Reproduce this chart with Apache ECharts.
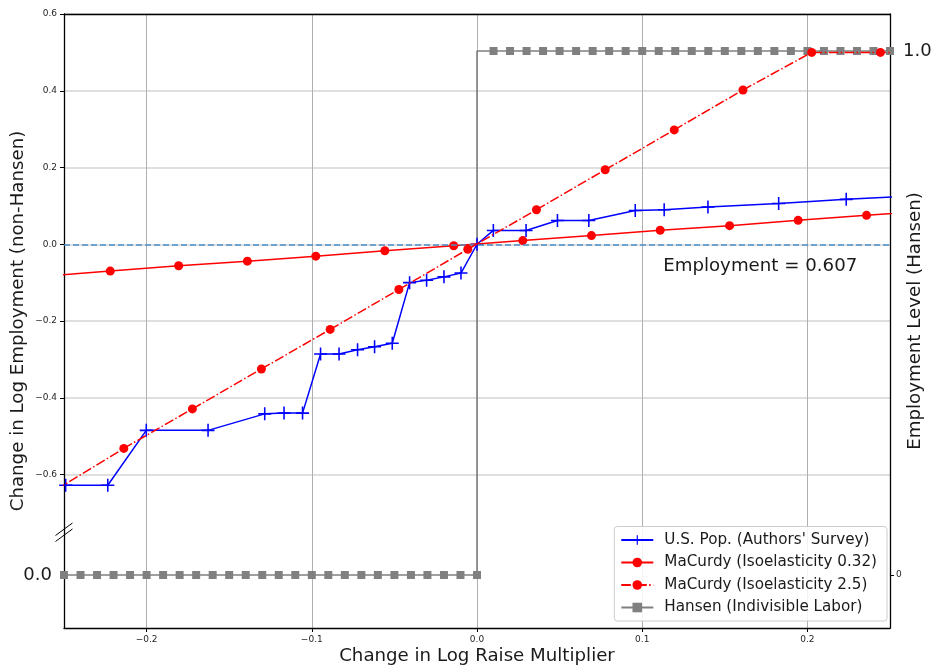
<!DOCTYPE html>
<html>
<head>
<meta charset="utf-8">
<script src="https://cdn.jsdelivr.net/npm/echarts@6/dist/echarts.min.js"></script>
<style>
html, body { margin: 0; padding: 0; background: #fff; }
#chart { width: 934px; height: 668px; }
</style>
</head>
<body>
<div id="chart"></div>
<script>
// U.S. population (authors' survey)
const usX = [-0.249, -0.2235, -0.2002, -0.1628, -0.1285, -0.1168, -0.1056, -0.0947, -0.0835, -0.0723, -0.062, -0.0513,
  -0.0408, -0.0305, -0.02, -0.0097, 0, 0.0099, 0.0297, 0.0487, 0.0677, 0.0958, 0.1133, 0.1398, 0.1826, 0.2235, 0.265]
const usY = [-0.628, -0.628, -0.485, -0.485, -0.442, -0.44, -0.44, -0.286, -0.286, -0.275, -0.267, -0.258,
  -0.1, -0.094, -0.085, -0.075, 0, 0.036, 0.036, 0.062, 0.062, 0.088, 0.09, 0.097, 0.106, 0.117, 0.126]

// MaCurdy, isoelasticity 0.32
const mc1X = [-0.264, -0.222, -0.1806, -0.139, -0.0976, -0.0558, -0.0141, 0.0277, 0.0693, 0.1109, 0.1529, 0.1944, 0.2358, 0.278]
const mc1Y = [-0.084, -0.07, -0.056, -0.044, -0.031, -0.017, -0.004, 0.0095, 0.0225, 0.0364, 0.0485, 0.0623, 0.0753, 0.089]

// MaCurdy, isoelasticity 2.5
const mc2X = [-0.255, -0.2138, -0.1723, -0.1305, -0.0889, -0.0473, -0.0056, 0.036, 0.0776, 0.1194, 0.161, 0.2026, 0.2442, 0.286]
const mc2Y = [-0.64, -0.532, -0.429, -0.325, -0.222, -0.118, -0.013, 0.09, 0.194, 0.298, 0.402, 0.5, 0.5, 0.5]

// Hansen (indivisible labor), employment level on the right axis
const hansenX = [-0.25, -0.24, -0.23, -0.22, -0.21, -0.2, -0.19, -0.18, -0.17, -0.16, -0.15, -0.14, -0.13,
  -0.12, -0.11, -0.1, -0.09, -0.08, -0.07, -0.06, -0.05, -0.04, -0.03, -0.02, -0.01, 0,
  0.01, 0.02, 0.03, 0.04, 0.05, 0.06, 0.07, 0.08, 0.09, 0.1, 0.11, 0.12, 0.13,
  0.14, 0.15, 0.16, 0.17, 0.18, 0.19, 0.2, 0.21, 0.22, 0.23, 0.24, 0.25]
const hansenY = [0, 0, 0, 0, 0, 0, 0, 0, 0, 0, 0, 0, 0,
  0, 0, 0, 0, 0, 0, 0, 0, 0, 0, 0, 0, 0,
  1, 1, 1, 1, 1, 1, 1, 1, 1, 1, 1, 1, 1,
  1, 1, 1, 1, 1, 1, 1, 1, 1, 1, 1, 1]

const xTicks = [-0.2, -0.1, 0, 0.1, 0.2]
const yTicks = [-0.6, -0.4, -0.2, 0, 0.2, 0.4, 0.6]
const seriesNames = ["U.S. Pop. (Authors' Survey)", 'MaCurdy (Isoelasticity 0.32)', 'MaCurdy (Isoelasticity 2.5)', 'Hansen (Indivisible Labor)']
const employmentNote = 'Employment = 0.607'

const zip = (xs, ys) => xs.map((x, i) => [x, ys[i]])
const fmt = v => v.toFixed(1).replace('-', '\u2212')

const FONT = 'DejaVu Sans'
const PLUS = 'path://M4.4,0H5.6V4.4H10V5.6H5.6V10H4.4V5.6H0V4.4H4.4Z'
const SPINE = { show: true, onZero: false, lineStyle: { color: '#000', width: 1.3 } }
const hansenMin = -0.1011
const hansenMax = 1.0706

const chart = echarts.init(document.getElementById('chart'), null, { renderer: 'canvas' })

const option = {
  animation: false,
  textStyle: { fontFamily: FONT },
  grid: {
    left: 64, right: 44, top: 14, bottom: 40,
    outerBoundsMode: 'none',
    containLabel: false
  },
  legend: {
    orient: 'vertical',
    right: 47,
    bottom: 47,
    data: seriesNames,
    itemWidth: 32,
    itemHeight: 12,
    itemGap: 7.5,
    padding: [6, 10, 6, 6],
    backgroundColor: 'rgba(255,255,255,0.85)',
    borderColor: '#cccccc',
    borderWidth: 1,
    borderRadius: 3,
    textStyle: { fontFamily: FONT, fontSize: 15.2, color: '#1a1a1a', padding: [0, 0, 0, 6] }
  },
  xAxis: [
    {
      type: 'value',
      position: 'bottom',
      min: -0.25,
      max: 0.25,
      name: 'Change in Log Raise Multiplier',
      nameLocation: 'middle',
      nameGap: 19,
      nameMoveOverlap: false,
      nameTextStyle: { fontFamily: FONT, fontSize: 18.2, color: '#1a1a1a' },
      axisLine: SPINE,
      axisTick: { show: true, customValues: xTicks, length: 4, lineStyle: { color: '#000' } },
      axisLabel: { customValues: xTicks, formatter: fmt, fontSize: 9, color: '#262626', margin: 7, fontFamily: FONT },
      splitLine: { show: true, lineStyle: { color: '#b0b0b0', width: 1 } }
    },
    {
      // top spine
      type: 'value',
      position: 'top',
      min: -0.25,
      max: 0.25,
      axisLine: SPINE,
      axisTick: { show: false },
      axisLabel: { show: false },
      splitLine: { show: false }
    }
  ],
  yAxis: [
    {
      type: 'value',
      position: 'left',
      min: -1.0,
      max: 0.6,
      name: 'Change in Log Employment (non-Hansen)',
      nameLocation: 'middle',
      nameRotate: 90,
      nameGap: 37,
      nameMoveOverlap: false,
      nameTextStyle: { fontFamily: FONT, fontSize: 18.2, color: '#1a1a1a' },
      axisLine: SPINE,
      axisTick: { show: true, customValues: yTicks, length: 4, lineStyle: { color: '#000' } },
      axisLabel: { customValues: yTicks, formatter: fmt, fontSize: 9, color: '#262626', margin: 7, fontFamily: FONT },
      splitLine: { show: true, lineStyle: { color: '#d4d4d4', width: 1.5 } }
    },
    {
      type: 'value',
      position: 'right',
      min: hansenMin,
      max: hansenMax,
      name: 'Employment Level (Hansen)',
      nameLocation: 'middle',
      nameRotate: 90,
      nameGap: 16,
      nameMoveOverlap: false,
      nameTextStyle: { fontFamily: FONT, fontSize: 18.2, color: '#1a1a1a' },
      axisLine: SPINE,
      axisTick: { show: true, customValues: [0], length: 4, lineStyle: { color: '#000' } },
      axisLabel: { customValues: [0], formatter: v => String(v), fontSize: 9, color: '#262626', margin: 6, fontFamily: FONT },
      splitLine: { show: false }
    },
    {
      // big "0.0" at the Hansen zero level, left side
      type: 'value',
      position: 'left',
      min: hansenMin,
      max: hansenMax,
      axisLine: { show: false },
      axisTick: { show: false },
      axisLabel: { customValues: [0], formatter: () => '0.0', fontSize: 18, color: '#1a1a1a', margin: 12, fontFamily: FONT },
      splitLine: { show: false }
    },
    {
      // big "1.0" at the Hansen full-employment level, right side
      type: 'value',
      position: 'right',
      min: hansenMin,
      max: hansenMax,
      axisLine: { show: false },
      axisTick: { show: false },
      axisLabel: { customValues: [1], formatter: () => '1.0', fontSize: 18, color: '#1a1a1a', margin: 13, fontFamily: FONT },
      splitLine: { show: false }
    }
  ],
  series: [
    {
      name: seriesNames[3],
      type: 'line',
      yAxisIndex: 1,
      data: zip(hansenX, hansenY),
      step: 'start',
      symbol: 'rect',
      symbolSize: 8,
      showAllSymbol: true,
      color: '#808080',
      lineStyle: { width: 1.6, color: '#808080' },
      z: 2
    },
    {
      name: seriesNames[0],
      type: 'line',
      data: zip(usX, usY),
      symbol: PLUS,
      symbolSize: 13,
      showAllSymbol: true,
      color: '#0000ff',
      lineStyle: { width: 1.5, color: '#0000ff' },
      z: 3
    },
    {
      name: seriesNames[1],
      type: 'line',
      data: zip(mc1X, mc1Y),
      symbol: 'circle',
      symbolSize: 9,
      showAllSymbol: true,
      color: '#ff0000',
      lineStyle: { width: 1.5, color: '#ff0000' },
      z: 4,
      markLine: {
        silent: true,
        symbol: 'none',
        label: { show: false },
        lineStyle: { color: '#4a8fc6', type: [6, 3], width: 1.5 },
        data: [{ yAxis: 0 }]
      },
      markPoint: {
        silent: true,
        symbol: 'circle',
        symbolSize: 0,
        label: {
          show: true,
          position: 'right',
          distance: 0,
          formatter: employmentNote,
          fontFamily: FONT,
          fontSize: 18.2,
          color: '#1a1a1a'
        },
        data: [{ coord: [0.1127, -0.057] }]
      }
    },
    {
      name: seriesNames[2],
      type: 'line',
      data: zip(mc2X, mc2Y),
      symbol: 'circle',
      symbolSize: 9,
      showAllSymbol: true,
      color: '#ff0000',
      lineStyle: { width: 1.5, color: '#ff0000', type: [9.6, 2.4, 1.5, 2.4] },
      z: 5
    }
  ]
}

chart.setOption(option)

// axis-break marks on the left spine
const bx = chart.convertToPixel({ xAxisIndex: 0 }, -0.25)
const by = chart.convertToPixel({ yAxisIndex: 0 }, -0.755)
chart.setOption({
  graphic: [
    {
      type: 'group', x: bx, y: by, z: 100,
      children: [
        { type: 'line', shape: { x1: -8.5, y1: 1.5, x2: 8.5, y2: -11 }, style: { stroke: '#000', lineWidth: 1 } },
        { type: 'line', shape: { x1: -8.5, y1: 7.5, x2: 8.5, y2: -5 }, style: { stroke: '#000', lineWidth: 1 } }
      ]
    }
  ]
})
</script>
</body>
</html>
